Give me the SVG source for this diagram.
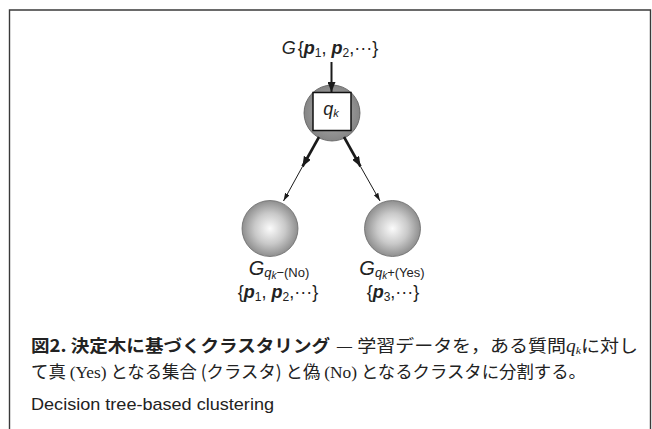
<svg xmlns="http://www.w3.org/2000/svg" width="652" height="429" viewBox="0 0 652 429">
<style>
.lab{font-family:"Liberation Sans",Arial,sans-serif;fill:#222}
.it{font-style:italic}
.bi{font-style:italic;font-weight:bold}
.cap{font-family:"Noto Sans CJK JP",sans-serif;fill:#222;font-size:17.5px}
.ser{font-family:"Liberation Serif","Noto Sans CJK JP",serif}
.conn{stroke:#1a1a1a;fill:none}
</style>
<defs>
<radialGradient id="sph" cx="50%" cy="50%" r="50%">
<stop offset="0%" stop-color="#fbfbfb"/>
<stop offset="55%" stop-color="#c9c9c9"/>
<stop offset="100%" stop-color="#8e8e8e"/>
</radialGradient>
<radialGradient id="topc" cx="50%" cy="50%" r="50%">
<stop offset="0%" stop-color="#b4b4b4"/>
<stop offset="100%" stop-color="#858585"/>
</radialGradient>
<marker id="hb" markerUnits="userSpaceOnUse" markerWidth="11" markerHeight="8" refX="10" refY="4" orient="auto">
<path d="M0,0 L10,4 L0,8 Z" fill="#1a1a1a"/>
</marker>
<marker id="hs" markerUnits="userSpaceOnUse" markerWidth="9" markerHeight="6" refX="8" refY="2.5" orient="auto">
<path d="M0,0 L8,2.5 L0,5 Z" fill="#1a1a1a"/>
</marker>
</defs>
<path d="M9.5,429 V10 H650.5 V429" fill="none" stroke="#3a3a3a" stroke-width="1.4"/>

<g id="root-label">
<text class="lab" x="330" y="54" text-anchor="middle" font-size="18"><tspan class="it">G</tspan><tspan dx="2">{</tspan><tspan class="bi">p</tspan><tspan font-size="12" dy="3">1</tspan><tspan dy="-3">, </tspan><tspan class="bi">p</tspan><tspan font-size="12" dy="3">2</tspan><tspan dy="-3">,···}</tspan></text>
</g>

<g id="node-qk">
<circle cx="332" cy="113" r="28" fill="url(#topc)" stroke="#5a5a5a" stroke-width="0.8"/>
<rect x="313" y="92.5" width="38" height="38" fill="#fff" stroke="#111" stroke-width="1.5"/>
<text class="lab" x="331" y="115" text-anchor="middle" font-size="18"><tspan class="it">q</tspan><tspan class="it" font-size="11" dy="2">k</tspan></text>
</g>

<g id="node-no">
<circle cx="270" cy="228.5" r="28" fill="url(#sph)" stroke="#6a6a6a" stroke-width="0.8"/>
<text class="lab" x="279" y="275" text-anchor="middle" font-size="20"><tspan class="it">G</tspan><tspan class="it" font-size="13" dy="2">q</tspan><tspan class="it" font-size="10" dy="2">k</tspan><tspan font-size="13" dy="-2">−(No)</tspan></text>
<text class="lab" x="278" y="298" text-anchor="middle" font-size="18">{<tspan class="bi">p</tspan><tspan font-size="12" dy="3">1</tspan><tspan dy="-3">, </tspan><tspan class="bi">p</tspan><tspan font-size="12" dy="3">2</tspan><tspan dy="-3">,···}</tspan></text>
</g>

<g id="node-yes">
<circle cx="392.5" cy="228.5" r="28" fill="url(#sph)" stroke="#6a6a6a" stroke-width="0.8"/>
<text class="lab" x="392" y="275" text-anchor="middle" font-size="20"><tspan class="it">G</tspan><tspan class="it" font-size="13" dy="2">q</tspan><tspan class="it" font-size="10" dy="2">k</tspan><tspan font-size="13" dy="-2">+(Yes)</tspan></text>
<text class="lab" x="393" y="298" text-anchor="middle" font-size="18">{<tspan class="bi">p</tspan><tspan font-size="12" dy="3">3</tspan><tspan dy="-3">,···}</tspan></text>
</g>

<g id="connectors">
<line class="conn" x1="331.5" y1="62" x2="331.5" y2="92" stroke-width="2" marker-end="url(#hb)"/>
<line class="conn" x1="319" y1="137" x2="302.5" y2="166.5" stroke-width="2.6" marker-end="url(#hb)"/>
<line class="conn" x1="302.5" y1="166.5" x2="283.5" y2="201" stroke-width="1" marker-end="url(#hs)"/>
<line class="conn" x1="344" y1="137" x2="360.5" y2="166.5" stroke-width="2.6" marker-end="url(#hb)"/>
<line class="conn" x1="360.5" y1="166.5" x2="380" y2="201" stroke-width="1" marker-end="url(#hs)"/>
</g>

<g id="caption">
<text class="cap" x="31" y="352" font-weight="bold" textLength="299" lengthAdjust="spacingAndGlyphs">図2. 決定木に基づくクラスタリング</text>
<text class="cap" x="336" y="352" textLength="302" lengthAdjust="spacingAndGlyphs">— 学習データを，ある質問<tspan class="ser" font-style="italic" font-size="18">q</tspan><tspan class="ser" font-style="italic" font-size="11" dy="2">k</tspan><tspan dy="-2">に対し</tspan></text>
<text class="cap" x="31" y="378" textLength="555" lengthAdjust="spacingAndGlyphs">て真 <tspan class="ser">(Yes)</tspan> となる集合 (クラスタ) と偽 <tspan class="ser">(No)</tspan> となるクラスタに分割する。</text>
<text class="lab" x="31" y="410" font-size="17" textLength="243" lengthAdjust="spacingAndGlyphs">Decision tree-based clustering</text>
</g>
</svg>
